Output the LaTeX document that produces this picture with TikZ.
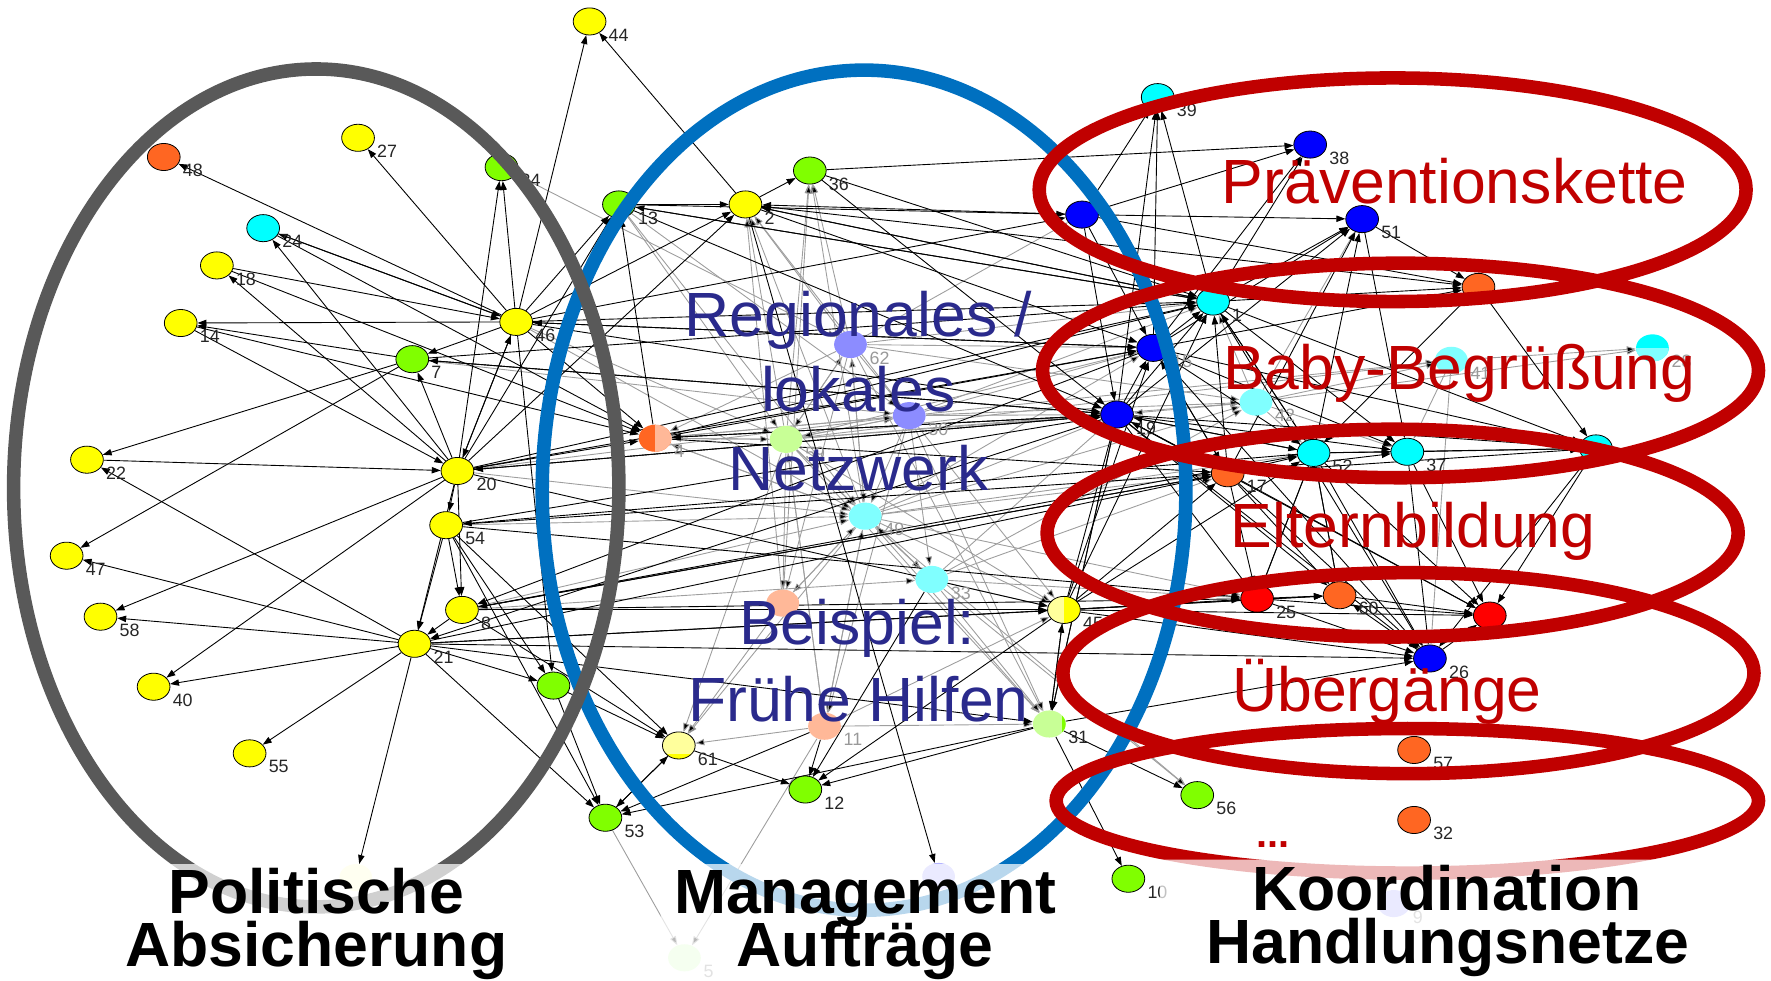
\documentclass[tikz,border=0pt]{standalone}
\usepackage{fontspec}
\setmainfont{Liberation Sans}
\usetikzlibrary{shapes.geometric,arrows.meta}

\definecolor{ny}{HTML}{FFFF00}
\definecolor{ng}{HTML}{80FF00}
\definecolor{nc}{HTML}{00FFFF}
\definecolor{nb}{HTML}{0000FF}
\definecolor{no}{HTML}{FF6622}
\definecolor{nr}{HTML}{FF0000}
\definecolor{lc}{HTML}{80FFFF}
\definecolor{lg}{HTML}{C8FF96}
\definecolor{ls}{HTML}{FFB898}
\definecolor{lb}{HTML}{8C8CFF}
\definecolor{lm}{HTML}{B4B4FF}
\definecolor{ly}{HTML}{FFFF9C}
\definecolor{lp}{HTML}{FFFFD0}
\definecolor{lf}{HTML}{DDFFCC}
\definecolor{ringgray}{HTML}{595959}
\definecolor{ringblue}{HTML}{0070C0}
\definecolor{ringred}{HTML}{C00000}
\definecolor{navy}{HTML}{2A2A8C}

\pgfdeclarelayer{edges}
\pgfdeclarelayer{rings}
\pgfdeclarelayer{words}
\pgfsetlayers{edges,main,rings,words}

\tikzset{
  vtx/.style={ellipse, draw=black, line width=0.4pt, minimum width=0.58cm,
              minimum height=0.48cm, inner sep=0pt, fill=#1},
  dim/.style={ellipse, draw=none, minimum width=0.58cm,
              minimum height=0.48cm, inner sep=0pt, fill=#1},
  num/.style={anchor=west, xshift=1pt, yshift=-0.24cm, inner sep=0pt,
              font=\fontsize{9}{10}\selectfont, text=black!85},
  tag/.style={label={[num]east:#1}},
  gtag/.style={label={[num, text=black!40]east:#1}},
  link/.style={draw=black, line width=0.45pt, -{Triangle[length=4.5pt,width=3.2pt]}},
  faint/.style={draw=black!38, line width=0.45pt, -{Triangle[length=4.5pt,width=3.2pt]}},
  ring/.style={line width=0.24cm, draw=#1},
  big/.style={anchor=base, inner sep=0pt, font=\fontsize{31.5}{36}\selectfont},
  head/.style={anchor=base, inner sep=0pt, font=\fontsize{31.5}{36}\selectfont\bfseries},
}

\begin{document}
\begin{tikzpicture}[x=0.02cm, y=-0.02cm]
  \useasboundingbox (0,0) rectangle (1568,868);

  % left cluster
  \node[vtx=no, tag=48] (v48) at (145,139) {};
  \node[vtx=ny, tag=27] (v27) at (317,122) {};
  \node[vtx=ng, tag=34] (v34) at (444,148) {};
  \node[vtx=nc, tag=24] (v24) at (233,202) {};
  \node[vtx=ny, tag=18] (v18) at (192,235) {};
  \node[vtx=ny, tag=14] (v14) at (160,286) {};
  \node[vtx=ny, tag=46] (v46) at (457,285) {};
  \node[vtx=ng, tag=7] (v7) at (365,318) {};
  \node[vtx=ny, tag=22] (v22) at (77,407) {};
  \node[vtx=ny, tag=20] (v20) at (405,417) {};
  \node[vtx=ny, tag=54] (v54) at (395,465) {};
  \node[vtx=ny, tag=47] (v47) at (59,492) {};
  \node[vtx=ny, tag=8] (v8) at (409,540) {};
  \node[vtx=ny, tag=58] (v58) at (89,546) {};
  \node[vtx=ny, tag=21] (v21) at (367,570) {};
  \node[vtx=ny, tag=40] (v40) at (136,608) {};
  \node[vtx=ny, tag=55] (v55) at (221,667) {};
  \node[dim=lp] (hP) at (315,777) {};
  \node[vtx=ny, tag=44] (v44) at (522,19) {};
  \node[vtx=ng] (hG) at (490,607) {};

  % middle cluster
  \node[vtx=ng, tag=13] (v13) at (548,181) {};
  \node[vtx=ny, tag=2] (v2) at (660,181) {};
  \node[vtx=ng, tag=36] (v36) at (717,151) {};
  \node[dim=lb, gtag=62] (v62) at (753,305) {};
  \node[dim=lb, gtag=30] (v30) at (805,368) {};
  \node[dim=no, gtag=4, path picture={\fill[ls] (path picture bounding box.north) rectangle (path picture bounding box.south east);}] (v4) at (580,388) {};
  \node[dim=lg, gtag=59] (v59) at (696,389) {};
  \node[dim=lc, gtag=49] (v49) at (766,457) {};
  \node[dim=lc, gtag=33] (v33) at (825,513) {};
  \node[dim=ls] (hS) at (693,534) {};
  \node[vtx=ly, tag=45, path picture={\fill[ny] (path picture bounding box.north) rectangle (path picture bounding box.south east);}] (v45) at (942,540) {};
  \node[vtx=ly, tag=61, path picture={\fill[ny] ([yshift=0.09cm]path picture bounding box.south west) rectangle (path picture bounding box.south east);}] (v61) at (601,660) {};
  \node[dim=ls, gtag=11] (v11) at (730,643) {};
  \node[dim=lg, tag=31, path picture={\fill[ng] ([xshift=-0.07cm]path picture bounding box.north east) rectangle (path picture bounding box.south east);}] (v31) at (929,641) {};
  \node[vtx=ng, tag=12] (v12) at (713,699) {};
  \node[vtx=ng, tag=53] (v53) at (536,724) {};
  \node[dim=lm] (hM) at (831,776) {};
  \node[dim=lf, gtag=5] (v5) at (606,848) {};

  % right cluster
  \node[vtx=nc, tag=39] (v39) at (1025,86) {};
  \node[vtx=nb, tag=38] (v38) at (1160,128) {};
  \node[vtx=nb, tag=51] (v51) at (1206,194) {};
  \node[vtx=nb] (hB) at (958,190) {};
  \node[vtx=no] (hO) at (1309,254) {};
  \node[vtx=nc, tag=1] (v1) at (1074,267) {};
  \node[vtx=nb, gtag=15] (v15) at (1021,308) {};
  \node[vtx=nb, tag=19] (v19) at (989,367) {};
  \node[dim=lc, gtag=42] (v42) at (1112,356) {};
  \node[dim=lc, gtag=41] (v41) at (1285,319) {};
  \node[dim=nc, gtag=28, path picture={\fill[lc] (path picture bounding box.west) rectangle (path picture bounding box.south east);}] (v28) at (1463,308) {};
  \node[vtx=nc, tag=52] (v52) at (1163,401) {};
  \node[vtx=nc, tag=37] (v37) at (1246,400) {};
  \node[vtx=nc] (hC) at (1413,397) {};
  \node[vtx=no, tag=17] (v17) at (1087,419) {};
  \node[vtx=nr, tag=25] (v25) at (1113,530) {};
  \node[vtx=no, tag=60] (v60) at (1186,527) {};
  \node[vtx=nr] (hR) at (1319,545) {};
  \node[vtx=nb, tag=26] (v26) at (1266,583) {};
  \node[vtx=no, tag=57] (v57) at (1252,664) {};
  \node[vtx=ng, tag=56] (v56) at (1060,704) {};
  \node[vtx=no, tag=32] (v32) at (1252,726) {};
  \node[vtx=ng, tag=10] (v10) at (999,778) {};
  \node[dim=lm, gtag=9] (v9) at (1234,800) {};

  \begin{pgfonlayer}{edges}
    \path[faint] (v59) edge (v2) edge (v36) edge (v4) edge (v62) edge (v30) edge (v49) edge (v33)
      edge (hS) edge (v11) edge (v61) edge (v45) edge (v31) edge (v41) edge (v42) edge (v19)
      edge (v15);
    \path[faint] (v49) edge (v2) edge (v36) edge (v62) edge (v4) edge (v33) edge (hS) edge (v11)
      edge (v45) edge (v31) edge (v61) edge (v42) edge (v19) edge (v17) edge (v52) edge (v56)
      edge (v15) edge (v25);
    \path[faint] (v62) edge (v2) edge (v36) edge (v4) edge (v49) edge (v30) edge (v31) edge (hS)
      edge (v42) edge (v15) edge (hB) edge (v59) edge (v1);
    \path[faint] (v30) edge (v2) edge (v49) edge (v4) edge (v11) edge (v31) edge (v45) edge (v42)
      edge (v19) edge (v41) edge (v33) edge (v59) edge (v15) edge (v1);
    \path[faint] (v33) edge (v45) edge (v31) edge (v42) edge (v17) edge (v25) edge (v56) edge (v49)
      edge (v19);
    \path[faint] (hS) edge (v61) edge (v49) edge (v2) edge (v36);
    \path[faint] (v11) edge (v61) edge (v49) edge (v5) edge (v31) edge (v59) edge (v45);
    \path[faint] (v53) edge (v5);
    \path[faint] (v13) edge (v59) edge (v49) edge (v30);
    \path[faint] (v34) edge (v62);
    \path[faint] (v4) edge (v59) edge (v49) edge (v30);
    \path[faint] (v46) edge (v59) edge (v49);
    \path[faint] (v20) edge (v49) edge (v30);
    \path[faint] (v7) edge (v30);
    \path[faint] (v54) edge (v49);
    \path[faint] (v8) edge (v49) edge (v33);
    \path[faint] (v42) edge (v41) edge (v28) edge (v52) edge (v51) edge (v37) edge (v19) edge (v1);
    \path[faint] (v41) edge (v28) edge (v37) edge (v26);

    \path[link] (v46) edge (v34) edge (v44) edge (v27) edge (v24) edge (v14) edge (v7) edge (v48)
      edge (v13) edge (v2) edge (v4) edge (hB) edge (v19) edge (v15) edge (v1) edge (hG) edge (v20);
    \path[link] (v20) edge (v34) edge (v24) edge (v18) edge (v7) edge (v58) edge (v40) edge (v54)
      edge (v8) edge (v21) edge (v46) edge (v4) edge (v19) edge (v15) edge (v1) edge (v45)
      edge (v2) edge (v13);
    \path[link] (v21) edge (v47) edge (v58) edge (v40) edge (v55) edge (hP) edge (v53) edge (hG)
      edge (v45) edge (v31) edge (v26) edge (v60) edge (v22) edge (v17);
    \path[link] (v54) edge (v8) edge (v21) edge (hG) edge (v53) edge (v17) edge (v19) edge (v61)
      edge (v25);
    \path[link] (v8) edge (v21) edge (v17) edge (v25) edge (v45) edge (v61) edge (v52);
    \path[link] (v7) edge (v14) edge (v22) edge (v47) edge (v19) edge (v1);
    \path[link] (v18) edge (v46) edge (v4);
    \path[link] (v24) edge (v46) edge (v4);
    \path[link] (v14) edge (v20) edge (v4);
    \path[link] (v22) edge (v20);
    \path[link] (v2) edge (v36) edge (v44) edge (hM) edge (hO) edge (v1) edge (v15);
    \path[link] (v36) edge (v1) edge (v19) edge (v38);
    \path[link] (v13) edge (v2) edge (v19) edge (v1) edge (hB);
    \path[link] (v4) edge (v13) edge (v19) edge (v15) edge (v1) edge (v17);
    \path[link] (hB) edge (v38) edge (v51) edge (v39) edge (hO) edge (v19) edge (v15) edge (v2);
    \path[link] (v1) edge (v38) edge (v51) edge (hO) edge (v39) edge (v52) edge (v37) edge (v2)
      edge (v13) edge (hC) edge (v26);
    \path[link] (v15) edge (v51) edge (v38) edge (v39) edge (hO) edge (v1) edge (v52) edge (v17)
      edge (v26) edge (v46) edge (v8) edge (v37) edge (hC);
    \path[link] (v19) edge (v51) edge (v15) edge (v1) edge (v39) edge (v52) edge (v37) edge (hC)
      edge (v17) edge (v25) edge (v26) edge (v20) edge (v4) edge (v21) edge (v7) edge (v31)
      edge (v60) edge (hR);
    \path[link] (v17) edge (v51) edge (v1) edge (v15) edge (v19) edge (v52) edge (v37) edge (hC)
      edge (v25) edge (v60) edge (hR) edge (v26) edge (v8);
    \path[link] (v52) edge (v51) edge (v37) edge (hC) edge (v25) edge (v60) edge (hR) edge (v26)
      edge (v19) edge (v1) edge (v54);
    \path[link] (v37) edge (hC) edge (hR) edge (v26);
    \path[link] (v51) edge (hO) edge (v37);
    \path[link] (hO) edge (hC) edge (v52);
    \path[link] (hC) edge (hR) edge (v26);
    \path[link] (v25) edge (v60) edge (hR) edge (v26) edge (v52);
    \path[link] (v60) edge (hR) edge (v52);
    \path[link] (v26) edge (hR) edge (v60);
    \path[link] (v45) edge (v19) edge (v17) edge (v15) edge (v1) edge (v25) edge (v60) edge (v26)
      edge (hR) edge (v52) edge (v31) edge (v12);
    \path[link] (v31) edge (v45) edge (v12) edge (v53) edge (v56) edge (v10) edge (v26) edge (v19);
    \path[link] (v11) edge (v12) edge (v53);
    \path[link] (v61) edge (v12) edge (v53);
    \path[link] (v53) edge (v61);
    \path[link] (hG) edge (v53) edge (v61);
    \path[link] (v33) edge (v12);
  \end{pgfonlayer}

  \begin{pgfonlayer}{rings}
    \draw[ring=ringblue] (765,434) ellipse [x radius=5.70cm, y radius=7.44cm];
    \draw[ring=ringgray] (280,432) ellipse [x radius=5.36cm, y radius=7.42cm];
    \draw[ring=ringred] (1233,168) ellipse [x radius=6.26cm, y radius=1.98cm]
                        (1240,328) ellipse [x radius=6.34cm, y radius=1.90cm]
                        (1233,472) ellipse [x radius=6.12cm, y radius=1.84cm]
                        (1247,596) ellipse [x radius=6.12cm, y radius=1.78cm]
                        (1246,709) ellipse [x radius=6.22cm, y radius=1.28cm];
  \end{pgfonlayer}

  \begin{pgfonlayer}{words}
    \fill[white, opacity=0.72] (100,765) rectangle (460,868)
                               (585,765) rectangle (945,868)
                               (1027,761) rectangle (1545,868);
    \node[big, text=ringred] (tPrae) at (1288,180) {Präventionskette};
    \node[big, text=ringred] (tBaby) at (1292,345) {Baby-Begrüßung};
    \node[big, text=ringred] (tEltern) at (1251,485) {Elternbildung};
    \node[big, text=ringred] (tUeber) at (1228,630) {Übergänge};
    \node[anchor=base, inner sep=0pt, text=ringred, font=\fontsize{20}{24}\selectfont\bfseries] (tDots) at (1127,750) {...};
    \node[big, text=navy] (tReg) at (760,298) {Regionales /};
    \node[big, text=navy] (tLok) at (760,364) {lokales};
    \node[big, text=navy] (tNetz) at (760,434) {Netzwerk};
    \node[big, text=navy] (tBsp) at (759,571) {Beispiel:};
    \node[big, text=navy] (tFrueh) at (760,639) {Frühe Hilfen};
    \node[head] (tPol) at (280,809) {Politische};
    \node[head] (tAbs) at (280,856) {Absicherung};
    \node[head] (tMan) at (766,809) {Management};
    \node[head] (tAuf) at (766,856) {Aufträge};
    \node[head] (tKoo) at (1281,806) {Koordination};
    \node[head] (tHand) at (1282,853) {Handlungsnetze};
  \end{pgfonlayer}
\end{tikzpicture}
\end{document}
